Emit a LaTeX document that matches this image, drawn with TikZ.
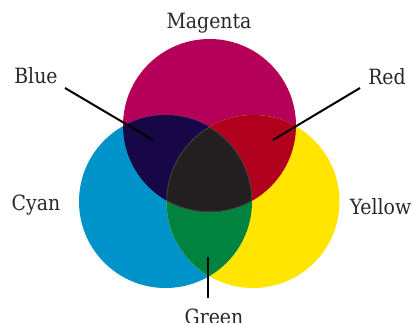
\documentclass[tikz,border=0pt]{standalone}
\usepackage{fontspec}
\setmainfont{DejaVu Serif Condensed}
\definecolor{cmag}{RGB}{181,0,90}
\definecolor{ccyan}{RGB}{0,147,201}
\definecolor{cyel}{RGB}{255,229,0}
\definecolor{cblue}{RGB}{23,7,71}
\definecolor{cred}{RGB}{176,0,30}
\definecolor{cgreen}{RGB}{0,131,63}
\definecolor{cblack}{RGB}{35,31,32}
\definecolor{cedge}{RGB}{75,68,72}
\definecolor{ctext}{RGB}{40,40,40}
\begin{document}
\begin{tikzpicture}[x=1pt,y=-1pt,
  lbl/.style={text=ctext,font=\fontsize{21}{21}\selectfont,inner sep=0pt,anchor=base},
  pointer/.style={line width=2pt,black}]
\useasboundingbox (0,0) rectangle (414,323);
\def\R{86.5}
\coordinate (M) at (209.5,125.5);
\coordinate (C) at (165.5,201.5);
\coordinate (Y) at (253,201.5);
\fill[cmag] (M) circle (\R);
\fill[ccyan] (C) circle (\R);
\fill[cyel] (Y) circle (\R);
\begin{scope}
  \clip (M) circle (\R);
  \fill[cblue] (C) circle (\R);
  \fill[cred] (Y) circle (\R);
\end{scope}
\begin{scope}
  \clip (C) circle (\R);
  \fill[cgreen] (Y) circle (\R);
  \clip (Y) circle (\R);
  \clip (M) circle (\R);
  \fill[cblack] (M) circle (\R);
  \draw[cedge,line width=1.2pt] (M) circle (\R) (C) circle (\R) (Y) circle (\R);
\end{scope}
\node[lbl] (magenta) at (209,28.5) {Magenta};
\node[lbl] (blue) at (36,84) {Blue};
\node[lbl] (red) at (387,85) {Red};
\node[lbl] (cyan) at (36,210) {Cyan};
\node[lbl] (yellow) at (380.5,214) {Yellow};
\node[lbl] (green) at (214,324) {Green};
\coordinate (blueA) at (65,88);
\coordinate (blueB) at (153,140);
\coordinate (redA) at (360,88);
\coordinate (redB) at (273,140);
\coordinate (greenA) at (208,257);
\coordinate (greenB) at (208,298);
\draw[pointer] (blueA) -- (blueB);
\draw[pointer] (redA) -- (redB);
\draw[pointer] (greenA) -- (greenB);
\end{tikzpicture}
\end{document}
